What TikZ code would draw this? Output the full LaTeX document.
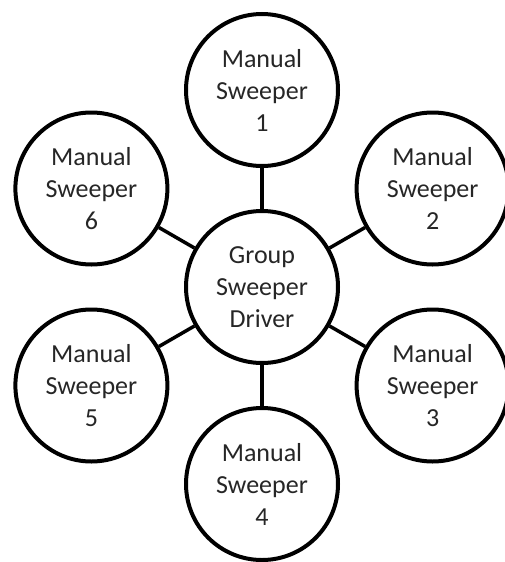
\documentclass[tikz,border=0pt]{standalone}
\usepackage{fontspec}
\setmainfont{Carlito}
\usetikzlibrary{calc}
\begin{document}
\begin{tikzpicture}[x=1pt,y=-1pt,
  sweeper/.style={circle,draw=black,line width=4pt,fill=white,inner sep=0pt,
    minimum size=152pt,align=center,text=black!85,
    font=\fontsize{26pt}{32pt}\selectfont},
  link/.style={draw=black,line width=3.5pt}]
\useasboundingbox (0,0) rectangle (505,562);
% hub and its six spokes
\node[sweeper] (hub) at (262,287) {Group\\Sweeper\\Driver};
\node[sweeper] (m1) at ($(hub)+(0,-197)$) {Manual\\Sweeper\\1};
\node[sweeper] (m2) at ($(hub)+(170.6,-98.5)$) {Manual\\Sweeper\\2};
\node[sweeper] (m3) at ($(hub)+(170.6,98.5)$) {Manual\\Sweeper\\3};
\node[sweeper] (m4) at ($(hub)+(0,197)$) {Manual\\Sweeper\\4};
\node[sweeper] (m5) at ($(hub)+(-170.6,98.5)$) {Manual\\Sweeper\\5};
\node[sweeper] (m6) at ($(hub)+(-170.6,-98.5)$) {Manual\\Sweeper\\6};
\foreach \m in {m1,m2,m3,m4,m5,m6}
  \draw[link] (hub) -- (\m);
\end{tikzpicture}
\end{document}
